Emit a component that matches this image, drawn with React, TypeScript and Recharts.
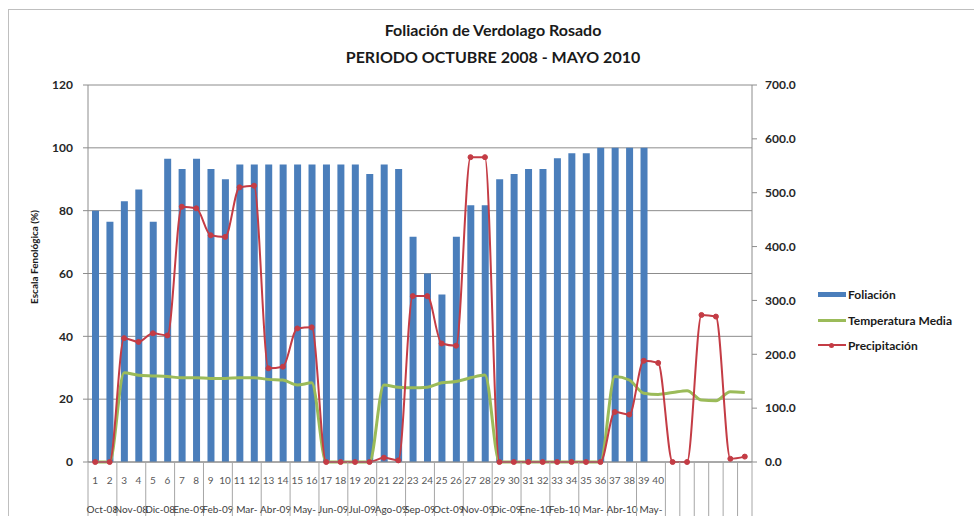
import React from "react";
import {
  ComposedChart,
  Bar,
  Line,
  XAxis,
  YAxis,
  CartesianGrid,
} from "recharts";

// category labels (first level) and month groups (second level)
const numLabels = [
  "1", "2", "3", "4", "5", "6", "7", "8", "9", "10",
  "11", "12", "13", "14", "15", "16", "17", "18", "19", "20",
  "21", "22", "23", "24", "25", "26", "27", "28", "29", "30",
  "31", "32", "33", "34", "35", "36", "37", "38", "39", "40",
  "", "", "", "", "", "",
];

const months = [
  "Oct-08", "Nov-08", "Dic-08", "Ene-09", "Feb-09", "Mar-09", "Abr-09",
  "May-09", "Jun-09", "Jul-09", "Ago-09", "Sep-09", "Oct-09", "Nov-09",
  "Dic-09", "Ene-10", "Feb-10", "Mar-10", "Abr-10", "May-10",
];

const foliacion = [
  80, 76.5, 83, 86.7, 76.5, 96.5, 93.3, 96.5, 93.3, 90,
  94.7, 94.7, 94.7, 94.7, 94.7, 94.7, 94.7, 94.7, 94.7, 91.7,
  94.7, 93.3, 71.7, 60, 53.3, 71.7, 81.7, 81.7, 90, 91.7,
  93.3, 93.3, 96.7, 98.3, 98.3, 100, 100, 100, 100, null,
  null, null, null, null, null, null,
];

const temperatura = [
  0, 0, 28.4, 27.6, 27.4, 27.2, 26.8, 26.8, 26.6, 26.6,
  26.8, 26.8, 26.3, 26.1, 24.5, 25.2, 0, 0, 0, 0,
  24.5, 23.8, 23.6, 23.8, 25.2, 25.6, 26.8, 27.7, 0, 0,
  0, 0, 0, 0, 0, 0, 27.2, 26.1, 21.9, 21.5,
  22.1, 22.7, 19.7, 19.5, 22.4, 22.1,
];

const precipitacion = [
  0, 0, 230, 223, 239, 235, 474, 471, 421, 418,
  510, 513, 174, 177, 248, 250, 0, 0, 0, 0,
  8, 3, 308, 308, 220, 216, 566, 566, 0, 0,
  0, 0, 0, 0, 0, 0, 93, 88, 188, 184,
  0, 0, 273, 270, 6, 10,
];

const leftTicks = [0, 20, 40, 60, 80, 100, 120];
const rightTicks = [0, 100, 200, 300, 400, 500, 600, 700];

const data = numLabels.map((label, i) => ({
  idx: i,
  label,
  foliacion: foliacion[i],
  temperatura: temperatura[i],
  precipitacion: precipitacion[i],
}));

const W = 974;
const H = 516;
const MARGIN = { top: 85, right: 162, bottom: 0, left: 28 };
const Y_AXIS_W = 60;
const X_AXIS_H = 54;
const PLOT_W = W - MARGIN.left - MARGIN.right - 2 * Y_AXIS_W;
const CAT_W = PLOT_W / numLabels.length;
const AXIS_Y = H - X_AXIS_H;

const BLUE = "#4a7ebb";
const GREEN = "#9bbb59";
const RED = "#c43c45";
const GRID = "#8c8c8c";
const FONT = "Lato, 'Open Sans', sans-serif";

function CategoryTick(props: any) {
  const { x, payload } = props;
  const i = Number(payload.value);
  const left = x - CAT_W / 2;
  const right = x + CAT_W / 2;
  const withMonth = i < 40 && i % 2 === 0;
  const month = withMonth ? months[i / 2] : "";
  const wrap = month.startsWith("Ma");
  return (
    <g>
      {(withMonth || i >= 40) && (
        <line x1={left} y1={AXIS_Y} x2={left} y2={H} stroke="#a6a6a6" />
      )}
      {i === numLabels.length - 1 && (
        <line x1={right} y1={AXIS_Y} x2={right} y2={H} stroke="#a6a6a6" />
      )}
      <text x={x} y={484} textAnchor="middle" fontSize={10} fill="#595959" fontFamily={FONT}>
        {numLabels[i]}
      </text>
      {withMonth && (
        <text x={right} y={513} textAnchor="middle" fontSize={10} fill="#404040" fontFamily={FONT}>
          {wrap ? (
            <>
              <tspan x={right}>{month.slice(0, 4)}</tspan>
              <tspan x={right} dy={12}>{month.slice(4)}</tspan>
            </>
          ) : (
            month
          )}
        </text>
      )}
    </g>
  );
}

const tickStyle = { fill: "#262626", fontSize: 12, fontWeight: 700, fontFamily: FONT };

export default function App() {
  return (
    <div
      style={{
        position: "absolute",
        left: 0,
        top: 0,
        width: W,
        height: H,
        overflow: "hidden",
        background: "#fff",
        fontFamily: FONT,
      }}
    >
      <div
        style={{
          position: "absolute",
          left: 8,
          top: 9,
          width: 1200,
          height: 800,
          border: "1px solid #bfbfbf",
        }}
      />
      <div
        style={{
          position: "absolute",
          left: 293,
          width: 400,
          top: 16,
          textAlign: "center",
          fontSize: 16,
          fontWeight: 700,
          color: "#1a1a1a",
          lineHeight: "27px",
        }}
      >
        <div>Foliación de Verdolago Rosado</div>
        <div>PERIODO OCTUBRE 2008 - MAYO 2010</div>
      </div>

      <ComposedChart width={W} height={H} data={data} margin={MARGIN} style={{ position: "absolute", left: 0, top: 0 }}>
        <CartesianGrid yAxisId="left" vertical={false} stroke={GRID} />
        <XAxis
          dataKey="idx"
          type="category"
          interval={0}
          height={X_AXIS_H}
          tickLine={false}
          axisLine={{ stroke: GRID }}
          tick={(p: any) => <CategoryTick {...p} />}
        />
        <YAxis
          yAxisId="left"
          width={Y_AXIS_W}
          domain={[0, 120]}
          ticks={leftTicks}
          interval={0}
          tickSize={5}
          tickMargin={10}
          tickLine={{ stroke: GRID }}
          axisLine={{ stroke: GRID }}
          tick={tickStyle}
        />
        <YAxis
          yAxisId="right"
          orientation="right"
          width={Y_AXIS_W}
          domain={[0, 700]}
          ticks={rightTicks}
          interval={0}
          tickSize={5}
          tickMargin={8}
          tickLine={{ stroke: GRID }}
          axisLine={{ stroke: GRID }}
          tick={{ ...tickStyle, textAnchor: "start" }}
          tickFormatter={(v: number) => v.toFixed(1)}
        />
        <Bar yAxisId="left" dataKey="foliacion" fill={BLUE} barSize={7} isAnimationActive={false} />
        <Line
          yAxisId="left"
          type="monotone"
          dataKey="temperatura"
          stroke={GREEN}
          strokeWidth={3}
          dot={false}
          isAnimationActive={false}
        />
        <Line
          yAxisId="right"
          type="monotone"
          dataKey="precipitacion"
          stroke={RED}
          strokeWidth={2}
          dot={{ r: 2.5, fill: RED, stroke: RED, strokeWidth: 1 }}
          isAnimationActive={false}
        />
      </ComposedChart>

      <div
        style={{
          position: "absolute",
          left: 34,
          top: 257,
          transform: "translate(-50%, -50%) rotate(-90deg)",
          whiteSpace: "nowrap",
          fontSize: 10,
          fontWeight: 700,
          color: "#1a1a1a",
        }}
      >
        Escala Fenológica (%)
      </div>

      <div style={{ position: "absolute", left: 818, top: 285, fontSize: 12, fontWeight: 700, color: "#1a1a1a" }}>
        <div style={{ display: "flex", alignItems: "center", height: 18 }}>
          <div style={{ width: 28, height: 5, background: BLUE, marginRight: 2 }} />
          <span>Foliación</span>
        </div>
        <div style={{ display: "flex", alignItems: "center", height: 18, marginTop: 8 }}>
          <div style={{ width: 28, height: 3, background: GREEN, marginRight: 2 }} />
          <span>Temperatura Media</span>
        </div>
        <div style={{ display: "flex", alignItems: "center", height: 18, marginTop: 7, position: "relative" }}>
          <div style={{ width: 28, height: 2, background: RED, marginRight: 2 }} />
          <div
            style={{
              position: "absolute",
              left: 11,
              top: 7,
              width: 5,
              height: 5,
              borderRadius: "50%",
              background: RED,
            }}
          />
          <span>Precipitación</span>
        </div>
      </div>
    </div>
  );
}
